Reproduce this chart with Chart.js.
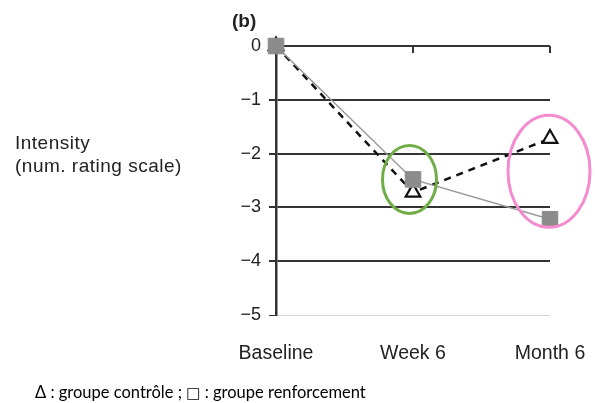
<!DOCTYPE html>
<html>
<head>
<meta charset="utf-8">
<script src="https://cdn.jsdelivr.net/npm/chart.js@4.4.1/dist/chart.umd.min.js"></script>
<style>
  html, body { margin: 0; padding: 0; background: #fff; }
  #wrap { position: relative; width: 596px; height: 403px; }
  canvas { position: absolute; left: 0; top: 0; }
  .note { position: absolute; color: #222; font-family: "Liberation Sans", Arial, sans-serif; white-space: nowrap; }
  .sq { font-family: "DejaVu Sans"; font-size: 15px; }
</style>
</head>
<body>
<div id="wrap">
  <canvas id="chart" width="596" height="403"></canvas>
  <div class="note" style="left:232px;top:10px;font-weight:bold;font-size:19px;">(b)</div>
  <div class="note" style="left:15px;top:131px;font-size:19px;line-height:23px;letter-spacing:0.5px;">Intensity<br>(num. rating scale)</div>
  <div class="note" style="left:35px;top:382px;font-family:Lato;font-size:16.5px;color:#000;">Δ : groupe contrôle ; <span class="sq">□</span> : groupe renforcement</div>
</div>
<script>
const timepoints = ["Baseline", "Week 6", "Month 6"];
const controlGroup = [0, -2.72, -1.72];        // triangles, dashed
const reinforcementGroup = [0, -2.48, -3.22];  // squares, grey line

// annotation ellipses (drawn around the week 6 and month 6 points)
const ellipses = {
  id: "ellipses",
  afterDraw(chart) {
    const { ctx, scales: { x, y } } = chart;
    ctx.save();
    // short tick marks hanging from the top line
    ctx.strokeStyle = "#333";
    ctx.lineWidth = 2;
    [1, 2].forEach(i => {
      const px = x.getPixelForValue(i);
      ctx.beginPath();
      ctx.moveTo(px, y.top);
      ctx.lineTo(px, y.top + 7);
      ctx.stroke();
    });
    ctx.lineWidth = 3;
    ctx.strokeStyle = "#70ad47";
    ctx.beginPath();
    ctx.ellipse(x.getPixelForValue(1) - 3.5, y.getPixelForValue(-2.48), 27, 34, 0, 0, Math.PI * 2);
    ctx.stroke();
    ctx.strokeStyle = "#f48ccf";
    ctx.beginPath();
    ctx.ellipse(x.getPixelForValue(2) - 1, y.getPixelForValue(-2.33), 41, 56, 0, 0, Math.PI * 2);
    ctx.stroke();
    ctx.restore();
  }
};

new Chart(document.getElementById("chart"), {
  type: "line",
  data: {
    labels: timepoints,
    datasets: [
      {
        label: "Reinforcement",
        data: reinforcementGroup,
        borderColor: "#9a9a9a",
        borderWidth: 1.5,
        pointStyle: "rect",
        pointRadius: 11,
        pointBackgroundColor: "#8c8c8c",
        pointBorderColor: "#8c8c8c",
        pointBorderWidth: 1,
        clip: false,
        order: 1
      },
      {
        label: "Control",
        data: controlGroup,
        borderColor: "#111",
        borderWidth: 2.5,
        borderDash: [7, 6],
        pointStyle: "triangle",
        pointRadius: 8.5,
        pointBackgroundColor: "#fff",
        pointBorderColor: "#111",
        pointBorderWidth: 2.2,
        clip: false,
        order: 2
      }
    ]
  },
  options: {
    responsive: false,
    animation: false,
    layout: { padding: { top: 46, right: 46, left: 0, bottom: 0 } },
    plugins: { legend: { display: false }, tooltip: { enabled: false } },
    scales: {
      x: {
        offset: false,
        grid: { display: false, drawTicks: false },
        border: { display: false },
        ticks: { padding: 27, color: "#222", font: { family: "Liberation Sans", size: 19.5 } },
        afterFit: scale => {
          scale.height = 88;
          scale.paddingLeft = 0;
          scale.paddingRight = 0;
        }
      },
      y: {
        min: -5,
        max: 0,
        grid: {
          color: c => c.tick.value === -5 ? "#d4d4d4" : "#333",
          lineWidth: c => c.tick.value === -5 ? 1 : 2,
          tickColor: "#333",
          tickLength: 7
        },
        border: { display: true, color: "#333", width: 2.5 },
        ticks: {
          stepSize: 1,
          padding: 8,
          color: "#222",
          font: { family: "Liberation Sans", size: 18 },
          callback: v => v < 0 ? "\u2212" + Math.abs(v) : v
        },
        afterFit: scale => {
          scale.width = 276;
          scale.paddingTop = 0;
          scale.paddingBottom = 0;
        }
      }
    }
  },
  plugins: [ellipses]
});
</script>
</body>
</html>
